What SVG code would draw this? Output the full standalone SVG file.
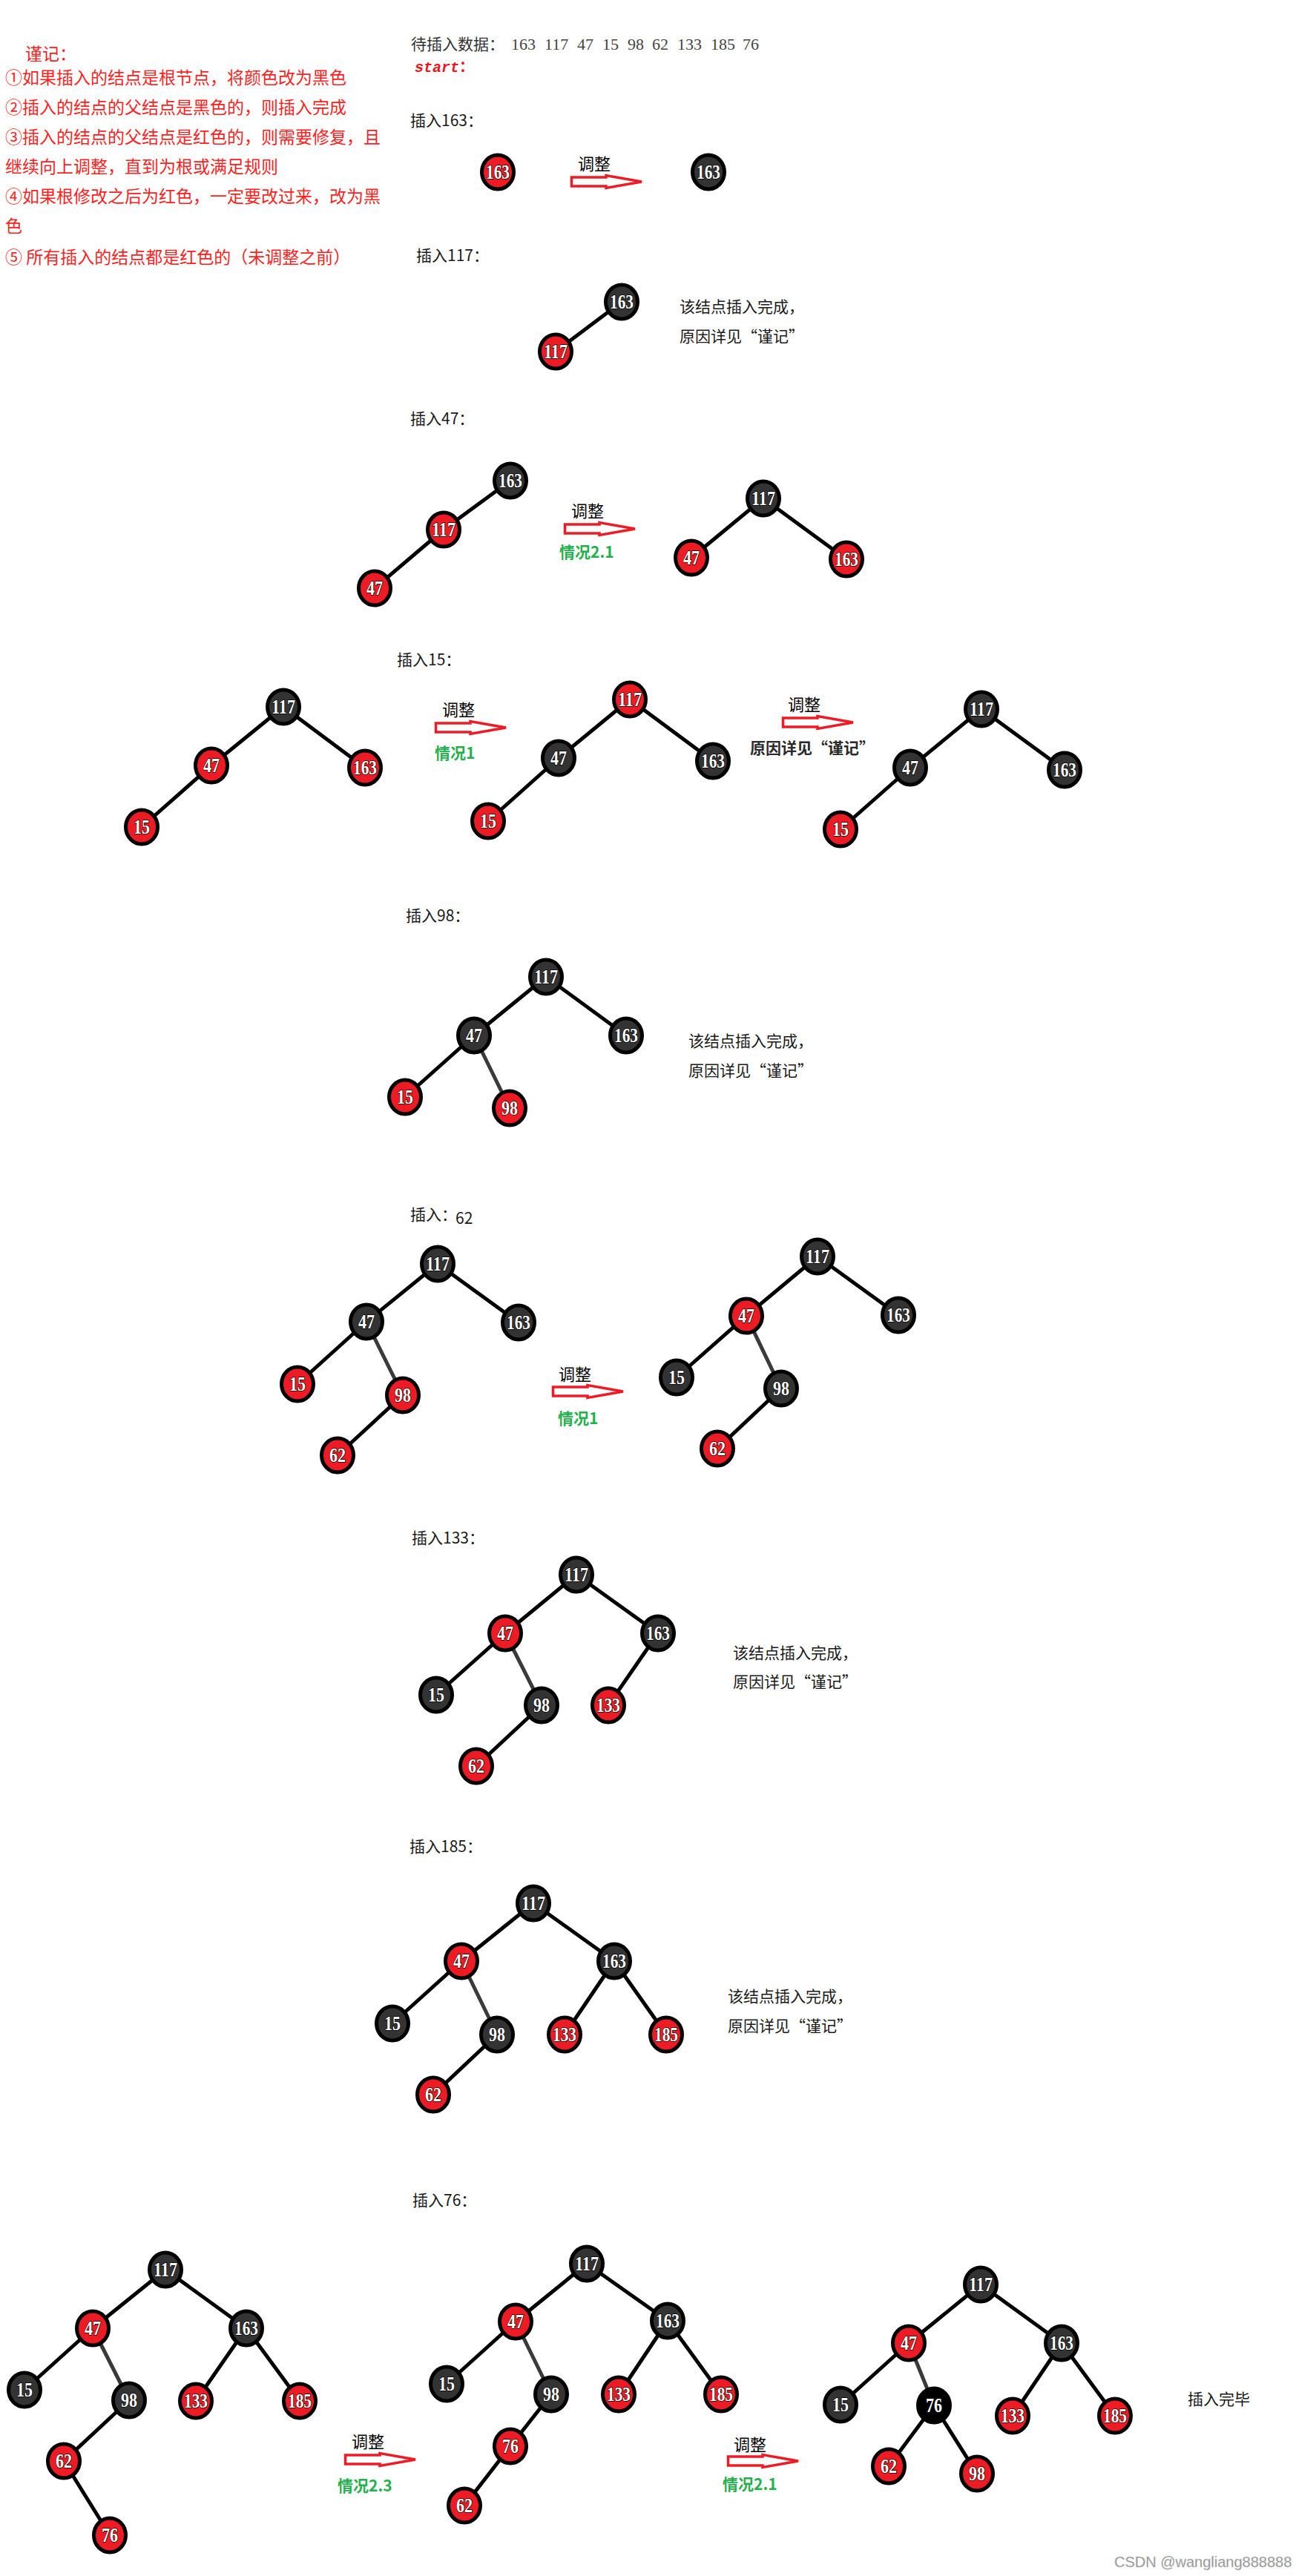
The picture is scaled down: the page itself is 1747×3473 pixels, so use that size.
<svg xmlns="http://www.w3.org/2000/svg" xmlns:xlink="http://www.w3.org/1999/xlink" width="1747" height="3473" viewBox="0 0 1747 3473">
<style>
.bg{fill:#fff}
.note{font-family:"Noto Sans CJK SC","Noto Sans",sans-serif;font-size:23px;fill:#ff1f1f}
.lbl{font-family:"Noto Sans CJK SC","Noto Sans",sans-serif;font-size:21px;fill:#1a1a1a}
.gray{font-family:"Noto Sans CJK SC","Noto Sans",sans-serif;font-size:21px;fill:#333}
.num{font-family:"Liberation Serif",serif;font-size:22px;fill:#444}
.start{font-family:"Liberation Mono",monospace;font-style:italic;font-weight:bold;font-size:20px;fill:#e8161e}
.adj{font-family:"Noto Sans CJK SC","Noto Sans",sans-serif;font-size:22px;fill:#000}
.case{font-family:"Noto Sans CJK SC","Noto Sans",sans-serif;font-size:21px;font-weight:bold;fill:#22b14c}
.bold{font-family:"Noto Sans CJK SC","Noto Sans",sans-serif;font-size:21px;font-weight:bold;fill:#2a2a2a}
.wm{font-family:"Liberation Sans",sans-serif;font-size:20px;fill:#8a8a8a;stroke:#d0d0d0;stroke-width:0.5}
.r{fill:#ed1c24;stroke:#000;stroke-width:5}
.b{fill:#333;stroke:#000;stroke-width:5}
.k{fill:#000;stroke:#000;stroke-width:5}
.n{font-family:"Liberation Serif",serif;font-weight:bold;font-size:27px;fill:#fff;stroke:#000;stroke-width:1.5;paint-order:stroke}
.e{stroke:#000;stroke-width:5;fill:none}
.e2{stroke:#3a3a3a;stroke-width:5;fill:none}
.arr{fill:#fff;stroke:#ed1c24;stroke-width:3.5;stroke-linejoin:miter}
</style>
<defs>
<path id="arr" class="arr" d="M1.5,4 H48 V1.5 L96,10 L48,18.5 V16 H1.5 Z"/>
</defs>
<rect class="bg" x="0" y="0" width="1747" height="3473"/>

<g id="notes">
<text class="note" x="34" y="81">谨记：</text>
<text class="note" x="7" y="113">①如果插入的结点是根节点，将颜色改为黑色</text>
<text class="note" x="7" y="153">②插入的结点的父结点是黑色的，则插入完成</text>
<text class="note" x="7" y="193">③插入的结点的父结点是红色的，则需要修复，且</text>
<text class="note" x="7" y="233">继续向上调整，直到为根或满足规则</text>
<text class="note" x="7" y="273">④如果根修改之后为红色，一定要改过来，改为黑</text>
<text class="note" x="7" y="313">色</text>
<text class="note" x="7" y="355">⑤ 所有插入的结点都是红色的（未调整之前）</text>
</g>

<g id="header">
<text class="gray" x="554" y="67">待插入数据：<tspan class="num" x="689">163</tspan><tspan class="num" x="734">117</tspan><tspan class="num" x="778">47</tspan><tspan class="num" x="812">15</tspan><tspan class="num" x="846">98</tspan><tspan class="num" x="879">62</tspan><tspan class="num" x="913">133</tspan><tspan class="num" x="958">185</tspan><tspan class="num" x="1001">76</tspan></text>
<text class="start" x="559" y="97">start<tspan font-style="normal" font-family="Noto Sans CJK SC, sans-serif">：</tspan></text>
</g>

<g id="titles">
<text class="lbl" x="553" y="170">插入163：</text>
<text class="lbl" x="561" y="352">插入117：</text>
<text class="lbl" x="553" y="572">插入47：</text>
<text class="lbl" x="535" y="897">插入15：</text>
<text class="lbl" x="547" y="1242">插入98：</text>
<text class="lbl" x="553" y="1645">插入：<tspan x="614" y="1650">62</tspan></text>
<text class="lbl" x="555" y="2081">插入133：</text>
<text class="lbl" x="552" y="2497">插入185：</text>
<text class="lbl" x="556" y="2974">插入76：</text>
</g>

<g id="remarks">
<text class="lbl" x="916" y="421">该结点插入完成，</text>
<text class="lbl" x="916" y="461">原因详见“谨记”</text>
<text class="lbl" x="928" y="1411">该结点插入完成，</text>
<text class="lbl" x="928" y="1451">原因详见“谨记”</text>
<text class="lbl" x="988" y="2236">该结点插入完成，</text>
<text class="lbl" x="988" y="2275">原因详见“谨记”</text>
<text class="lbl" x="981" y="2699">该结点插入完成，</text>
<text class="lbl" x="981" y="2739">原因详见“谨记”</text>
<text class="lbl" x="1601" y="3242">插入完毕</text>
</g>

<g id="arrows">
<use xlink:href="#arr" x="769" y="235"/>
<text class="adj" x="779" y="229">调整</text>
<use xlink:href="#arr" x="760" y="703"/>
<text class="adj" x="770" y="697">调整</text>
<text class="case" x="754" y="752">情况2.1</text>
<use xlink:href="#arr" x="586" y="971"/>
<text class="adj" x="596" y="965">调整</text>
<text class="case" x="586" y="1023">情况1</text>
<use xlink:href="#arr" x="1054" y="964"/>
<text class="adj" x="1062" y="958">调整</text>
<text class="bold" x="1011" y="1016">原因详见“谨记”</text>
<use xlink:href="#arr" x="744" y="1866"/>
<text class="adj" x="753" y="1861">调整</text>
<text class="case" x="752" y="1920">情况1</text>
<use xlink:href="#arr" x="464" y="3306"/>
<text class="adj" x="474" y="3300">调整</text>
<text class="case" x="455" y="3359">情况2.3</text>
<use xlink:href="#arr" x="980" y="3308"/>
<text class="adj" x="989" y="3304">调整</text>
<text class="case" x="974" y="3357">情况2.1</text>
</g>

<g id="connectors">
<line class="e" x1="838" y1="407" x2="749" y2="474"/>
<line class="e" x1="688" y1="648" x2="598" y2="714"/>
<line class="e" x1="598" y1="714" x2="505" y2="793"/>
<line class="e" x1="1029" y1="672" x2="932" y2="752"/>
<line class="e" x1="1029" y1="672" x2="1141" y2="754"/>
<line class="e" x1="382" y1="953" x2="285" y2="1032"/>
<line class="e" x1="382" y1="953" x2="492" y2="1035"/>
<line class="e" x1="285" y1="1032" x2="191" y2="1115"/>
<line class="e" x1="849" y1="943" x2="753" y2="1022"/>
<line class="e" x1="849" y1="943" x2="961" y2="1026"/>
<line class="e" x1="753" y1="1022" x2="658" y2="1107"/>
<line class="e" x1="1323" y1="956" x2="1227" y2="1035"/>
<line class="e" x1="1323" y1="956" x2="1435" y2="1038"/>
<line class="e" x1="1227" y1="1035" x2="1133" y2="1118"/>
<line class="e" x1="736" y1="1317" x2="639" y2="1396"/>
<line class="e" x1="736" y1="1317" x2="844" y2="1396"/>
<line class="e" x1="639" y1="1396" x2="546" y2="1479"/>
<line class="e2" x1="639" y1="1396" x2="687" y2="1494"/>
<line class="e" x1="590" y1="1704" x2="494" y2="1782"/>
<line class="e" x1="590" y1="1704" x2="699" y2="1783"/>
<line class="e" x1="494" y1="1782" x2="401" y2="1866"/>
<line class="e2" x1="494" y1="1782" x2="543" y2="1881"/>
<line class="e" x1="543" y1="1881" x2="455" y2="1962"/>
<line class="e" x1="1102" y1="1694" x2="1006" y2="1774"/>
<line class="e" x1="1102" y1="1694" x2="1211" y2="1773"/>
<line class="e" x1="1006" y1="1774" x2="912" y2="1857"/>
<line class="e2" x1="1006" y1="1774" x2="1053" y2="1872"/>
<line class="e" x1="1053" y1="1872" x2="967" y2="1953"/>
<line class="e" x1="777" y1="2123" x2="681" y2="2202"/>
<line class="e" x1="777" y1="2123" x2="887" y2="2202"/>
<line class="e" x1="681" y1="2202" x2="588" y2="2285"/>
<line class="e2" x1="681" y1="2202" x2="730" y2="2299"/>
<line class="e" x1="730" y1="2299" x2="642" y2="2381"/>
<line class="e" x1="887" y1="2202" x2="820" y2="2299"/>
<line class="e" x1="719" y1="2566" x2="622" y2="2644"/>
<line class="e" x1="719" y1="2566" x2="828" y2="2644"/>
<line class="e" x1="622" y1="2644" x2="529" y2="2728"/>
<line class="e2" x1="622" y1="2644" x2="670" y2="2743"/>
<line class="e" x1="670" y1="2743" x2="584" y2="2824"/>
<line class="e" x1="828" y1="2644" x2="761" y2="2743"/>
<line class="e" x1="828" y1="2644" x2="898" y2="2743"/>
<line class="e" x1="223" y1="3060" x2="125" y2="3139"/>
<line class="e" x1="223" y1="3060" x2="332" y2="3139"/>
<line class="e" x1="125" y1="3139" x2="33" y2="3222"/>
<line class="e2" x1="125" y1="3139" x2="174" y2="3236"/>
<line class="e" x1="174" y1="3236" x2="86" y2="3318"/>
<line class="e" x1="86" y1="3318" x2="148" y2="3418"/>
<line class="e" x1="332" y1="3139" x2="264" y2="3237"/>
<line class="e" x1="332" y1="3139" x2="404" y2="3237"/>
<line class="e" x1="791" y1="3052" x2="695" y2="3130"/>
<line class="e" x1="791" y1="3052" x2="900" y2="3129"/>
<line class="e" x1="695" y1="3130" x2="602" y2="3214"/>
<line class="e2" x1="695" y1="3130" x2="743" y2="3228"/>
<line class="e" x1="743" y1="3228" x2="688" y2="3298"/>
<line class="e" x1="688" y1="3298" x2="626" y2="3378"/>
<line class="e" x1="900" y1="3129" x2="834" y2="3228"/>
<line class="e" x1="900" y1="3129" x2="972" y2="3228"/>
<line class="e" x1="1322" y1="3080" x2="1225" y2="3159"/>
<line class="e" x1="1322" y1="3080" x2="1431" y2="3159"/>
<line class="e" x1="1225" y1="3159" x2="1133" y2="3242"/>
<line class="e2" x1="1225" y1="3159" x2="1259" y2="3243"/>
<line class="e" x1="1259" y1="3243" x2="1198" y2="3325"/>
<line class="e" x1="1259" y1="3243" x2="1317" y2="3335"/>
<line class="e" x1="1431" y1="3159" x2="1365" y2="3257"/>
<line class="e" x1="1431" y1="3159" x2="1503" y2="3257"/>
</g>

<g id="s1-163a"><ellipse class="r" cx="671" cy="232" rx="21.5" ry="23"/><text class="n" x="655" y="241" textLength="32" lengthAdjust="spacingAndGlyphs">163</text></g>
<g id="s1-163b"><ellipse class="b" cx="955" cy="232" rx="21.5" ry="23"/><text class="n" x="939" y="241" textLength="32" lengthAdjust="spacingAndGlyphs">163</text></g>

<g id="s2-163"><ellipse class="b" cx="838" cy="407" rx="21.5" ry="23"/><text class="n" x="822" y="416" textLength="32" lengthAdjust="spacingAndGlyphs">163</text></g>
<g id="s2-117"><ellipse class="r" cx="749" cy="474" rx="21.5" ry="23"/><text class="n" x="733" y="483" textLength="32" lengthAdjust="spacingAndGlyphs">117</text></g>

<g id="s3a-163"><ellipse class="b" cx="688" cy="648" rx="21.5" ry="23"/><text class="n" x="672" y="657" textLength="32" lengthAdjust="spacingAndGlyphs">163</text></g>
<g id="s3a-117"><ellipse class="r" cx="598" cy="714" rx="21.5" ry="23"/><text class="n" x="582" y="723" textLength="32" lengthAdjust="spacingAndGlyphs">117</text></g>
<g id="s3a-47"><ellipse class="r" cx="505" cy="793" rx="21.5" ry="23"/><text class="n" x="494" y="802" textLength="22" lengthAdjust="spacingAndGlyphs">47</text></g>
<g id="s3b-117"><ellipse class="b" cx="1029" cy="672" rx="21.5" ry="23"/><text class="n" x="1013" y="681" textLength="32" lengthAdjust="spacingAndGlyphs">117</text></g>
<g id="s3b-47"><ellipse class="r" cx="932" cy="752" rx="21.5" ry="23"/><text class="n" x="921" y="761" textLength="22" lengthAdjust="spacingAndGlyphs">47</text></g>
<g id="s3b-163"><ellipse class="r" cx="1141" cy="754" rx="21.5" ry="23"/><text class="n" x="1125" y="763" textLength="32" lengthAdjust="spacingAndGlyphs">163</text></g>

<g id="s4a-117"><ellipse class="b" cx="382" cy="953" rx="21.5" ry="23"/><text class="n" x="366" y="962" textLength="32" lengthAdjust="spacingAndGlyphs">117</text></g>
<g id="s4a-47"><ellipse class="r" cx="285" cy="1032" rx="21.5" ry="23"/><text class="n" x="274" y="1041" textLength="22" lengthAdjust="spacingAndGlyphs">47</text></g>
<g id="s4a-163"><ellipse class="r" cx="492" cy="1035" rx="21.5" ry="23"/><text class="n" x="476" y="1044" textLength="32" lengthAdjust="spacingAndGlyphs">163</text></g>
<g id="s4a-15"><ellipse class="r" cx="191" cy="1115" rx="21.5" ry="23"/><text class="n" x="180" y="1124" textLength="22" lengthAdjust="spacingAndGlyphs">15</text></g>
<g id="s4b-117"><ellipse class="r" cx="849" cy="943" rx="21.5" ry="23"/><text class="n" x="833" y="952" textLength="32" lengthAdjust="spacingAndGlyphs">117</text></g>
<g id="s4b-47"><ellipse class="b" cx="753" cy="1022" rx="21.5" ry="23"/><text class="n" x="742" y="1031" textLength="22" lengthAdjust="spacingAndGlyphs">47</text></g>
<g id="s4b-163"><ellipse class="b" cx="961" cy="1026" rx="21.5" ry="23"/><text class="n" x="945" y="1035" textLength="32" lengthAdjust="spacingAndGlyphs">163</text></g>
<g id="s4b-15"><ellipse class="r" cx="658" cy="1107" rx="21.5" ry="23"/><text class="n" x="647" y="1116" textLength="22" lengthAdjust="spacingAndGlyphs">15</text></g>
<g id="s4c-117"><ellipse class="b" cx="1323" cy="956" rx="21.5" ry="23"/><text class="n" x="1307" y="965" textLength="32" lengthAdjust="spacingAndGlyphs">117</text></g>
<g id="s4c-47"><ellipse class="b" cx="1227" cy="1035" rx="21.5" ry="23"/><text class="n" x="1216" y="1044" textLength="22" lengthAdjust="spacingAndGlyphs">47</text></g>
<g id="s4c-163"><ellipse class="b" cx="1435" cy="1038" rx="21.5" ry="23"/><text class="n" x="1419" y="1047" textLength="32" lengthAdjust="spacingAndGlyphs">163</text></g>
<g id="s4c-15"><ellipse class="r" cx="1133" cy="1118" rx="21.5" ry="23"/><text class="n" x="1122" y="1127" textLength="22" lengthAdjust="spacingAndGlyphs">15</text></g>

<g id="s5-117"><ellipse class="b" cx="736" cy="1317" rx="21.5" ry="23"/><text class="n" x="720" y="1326" textLength="32" lengthAdjust="spacingAndGlyphs">117</text></g>
<g id="s5-47"><ellipse class="b" cx="639" cy="1396" rx="21.5" ry="23"/><text class="n" x="628" y="1405" textLength="22" lengthAdjust="spacingAndGlyphs">47</text></g>
<g id="s5-163"><ellipse class="b" cx="844" cy="1396" rx="21.5" ry="23"/><text class="n" x="828" y="1405" textLength="32" lengthAdjust="spacingAndGlyphs">163</text></g>
<g id="s5-15"><ellipse class="r" cx="546" cy="1479" rx="21.5" ry="23"/><text class="n" x="535" y="1488" textLength="22" lengthAdjust="spacingAndGlyphs">15</text></g>
<g id="s5-98"><ellipse class="r" cx="687" cy="1494" rx="21.5" ry="23"/><text class="n" x="676" y="1503" textLength="22" lengthAdjust="spacingAndGlyphs">98</text></g>

<g id="s6a-117"><ellipse class="b" cx="590" cy="1704" rx="21.5" ry="23"/><text class="n" x="574" y="1713" textLength="32" lengthAdjust="spacingAndGlyphs">117</text></g>
<g id="s6a-47"><ellipse class="b" cx="494" cy="1782" rx="21.5" ry="23"/><text class="n" x="483" y="1791" textLength="22" lengthAdjust="spacingAndGlyphs">47</text></g>
<g id="s6a-163"><ellipse class="b" cx="699" cy="1783" rx="21.5" ry="23"/><text class="n" x="683" y="1792" textLength="32" lengthAdjust="spacingAndGlyphs">163</text></g>
<g id="s6a-15"><ellipse class="r" cx="401" cy="1866" rx="21.5" ry="23"/><text class="n" x="390" y="1875" textLength="22" lengthAdjust="spacingAndGlyphs">15</text></g>
<g id="s6a-98"><ellipse class="r" cx="543" cy="1881" rx="21.5" ry="23"/><text class="n" x="532" y="1890" textLength="22" lengthAdjust="spacingAndGlyphs">98</text></g>
<g id="s6a-62"><ellipse class="r" cx="455" cy="1962" rx="21.5" ry="23"/><text class="n" x="444" y="1971" textLength="22" lengthAdjust="spacingAndGlyphs">62</text></g>
<g id="s6b-117"><ellipse class="b" cx="1102" cy="1694" rx="21.5" ry="23"/><text class="n" x="1086" y="1703" textLength="32" lengthAdjust="spacingAndGlyphs">117</text></g>
<g id="s6b-47"><ellipse class="r" cx="1006" cy="1774" rx="21.5" ry="23"/><text class="n" x="995" y="1783" textLength="22" lengthAdjust="spacingAndGlyphs">47</text></g>
<g id="s6b-163"><ellipse class="b" cx="1211" cy="1773" rx="21.5" ry="23"/><text class="n" x="1195" y="1782" textLength="32" lengthAdjust="spacingAndGlyphs">163</text></g>
<g id="s6b-15"><ellipse class="b" cx="912" cy="1857" rx="21.5" ry="23"/><text class="n" x="901" y="1866" textLength="22" lengthAdjust="spacingAndGlyphs">15</text></g>
<g id="s6b-98"><ellipse class="b" cx="1053" cy="1872" rx="21.5" ry="23"/><text class="n" x="1042" y="1881" textLength="22" lengthAdjust="spacingAndGlyphs">98</text></g>
<g id="s6b-62"><ellipse class="r" cx="967" cy="1953" rx="21.5" ry="23"/><text class="n" x="956" y="1962" textLength="22" lengthAdjust="spacingAndGlyphs">62</text></g>

<g id="s7-117"><ellipse class="b" cx="777" cy="2123" rx="21.5" ry="23"/><text class="n" x="761" y="2132" textLength="32" lengthAdjust="spacingAndGlyphs">117</text></g>
<g id="s7-47"><ellipse class="r" cx="681" cy="2202" rx="21.5" ry="23"/><text class="n" x="670" y="2211" textLength="22" lengthAdjust="spacingAndGlyphs">47</text></g>
<g id="s7-163"><ellipse class="b" cx="887" cy="2202" rx="21.5" ry="23"/><text class="n" x="871" y="2211" textLength="32" lengthAdjust="spacingAndGlyphs">163</text></g>
<g id="s7-15"><ellipse class="b" cx="588" cy="2285" rx="21.5" ry="23"/><text class="n" x="577" y="2294" textLength="22" lengthAdjust="spacingAndGlyphs">15</text></g>
<g id="s7-98"><ellipse class="b" cx="730" cy="2299" rx="21.5" ry="23"/><text class="n" x="719" y="2308" textLength="22" lengthAdjust="spacingAndGlyphs">98</text></g>
<g id="s7-133"><ellipse class="r" cx="820" cy="2299" rx="21.5" ry="23"/><text class="n" x="804" y="2308" textLength="32" lengthAdjust="spacingAndGlyphs">133</text></g>
<g id="s7-62"><ellipse class="r" cx="642" cy="2381" rx="21.5" ry="23"/><text class="n" x="631" y="2390" textLength="22" lengthAdjust="spacingAndGlyphs">62</text></g>

<g id="s8-117"><ellipse class="b" cx="719" cy="2566" rx="21.5" ry="23"/><text class="n" x="703" y="2575" textLength="32" lengthAdjust="spacingAndGlyphs">117</text></g>
<g id="s8-47"><ellipse class="r" cx="622" cy="2644" rx="21.5" ry="23"/><text class="n" x="611" y="2653" textLength="22" lengthAdjust="spacingAndGlyphs">47</text></g>
<g id="s8-163"><ellipse class="b" cx="828" cy="2644" rx="21.5" ry="23"/><text class="n" x="812" y="2653" textLength="32" lengthAdjust="spacingAndGlyphs">163</text></g>
<g id="s8-15"><ellipse class="b" cx="529" cy="2728" rx="21.5" ry="23"/><text class="n" x="518" y="2737" textLength="22" lengthAdjust="spacingAndGlyphs">15</text></g>
<g id="s8-98"><ellipse class="b" cx="670" cy="2743" rx="21.5" ry="23"/><text class="n" x="659" y="2752" textLength="22" lengthAdjust="spacingAndGlyphs">98</text></g>
<g id="s8-133"><ellipse class="r" cx="761" cy="2743" rx="21.5" ry="23"/><text class="n" x="745" y="2752" textLength="32" lengthAdjust="spacingAndGlyphs">133</text></g>
<g id="s8-185"><ellipse class="r" cx="898" cy="2743" rx="21.5" ry="23"/><text class="n" x="882" y="2752" textLength="32" lengthAdjust="spacingAndGlyphs">185</text></g>
<g id="s8-62"><ellipse class="r" cx="584" cy="2824" rx="21.5" ry="23"/><text class="n" x="573" y="2833" textLength="22" lengthAdjust="spacingAndGlyphs">62</text></g>

<g id="s9a-117"><ellipse class="b" cx="223" cy="3060" rx="21.5" ry="23"/><text class="n" x="207" y="3069" textLength="32" lengthAdjust="spacingAndGlyphs">117</text></g>
<g id="s9a-47"><ellipse class="r" cx="125" cy="3139" rx="21.5" ry="23"/><text class="n" x="114" y="3148" textLength="22" lengthAdjust="spacingAndGlyphs">47</text></g>
<g id="s9a-163"><ellipse class="b" cx="332" cy="3139" rx="21.5" ry="23"/><text class="n" x="316" y="3148" textLength="32" lengthAdjust="spacingAndGlyphs">163</text></g>
<g id="s9a-15"><ellipse class="b" cx="33" cy="3222" rx="21.5" ry="23"/><text class="n" x="22" y="3231" textLength="22" lengthAdjust="spacingAndGlyphs">15</text></g>
<g id="s9a-98"><ellipse class="b" cx="174" cy="3236" rx="21.5" ry="23"/><text class="n" x="163" y="3245" textLength="22" lengthAdjust="spacingAndGlyphs">98</text></g>
<g id="s9a-133"><ellipse class="r" cx="264" cy="3237" rx="21.5" ry="23"/><text class="n" x="248" y="3246" textLength="32" lengthAdjust="spacingAndGlyphs">133</text></g>
<g id="s9a-185"><ellipse class="r" cx="404" cy="3237" rx="21.5" ry="23"/><text class="n" x="388" y="3246" textLength="32" lengthAdjust="spacingAndGlyphs">185</text></g>
<g id="s9a-62"><ellipse class="r" cx="86" cy="3318" rx="21.5" ry="23"/><text class="n" x="75" y="3327" textLength="22" lengthAdjust="spacingAndGlyphs">62</text></g>
<g id="s9a-76"><ellipse class="r" cx="148" cy="3418" rx="21.5" ry="23"/><text class="n" x="137" y="3427" textLength="22" lengthAdjust="spacingAndGlyphs">76</text></g>

<g id="s9b-117"><ellipse class="b" cx="791" cy="3052" rx="21.5" ry="23"/><text class="n" x="775" y="3061" textLength="32" lengthAdjust="spacingAndGlyphs">117</text></g>
<g id="s9b-47"><ellipse class="r" cx="695" cy="3130" rx="21.5" ry="23"/><text class="n" x="684" y="3139" textLength="22" lengthAdjust="spacingAndGlyphs">47</text></g>
<g id="s9b-163"><ellipse class="b" cx="900" cy="3129" rx="21.5" ry="23"/><text class="n" x="884" y="3138" textLength="32" lengthAdjust="spacingAndGlyphs">163</text></g>
<g id="s9b-15"><ellipse class="b" cx="602" cy="3214" rx="21.5" ry="23"/><text class="n" x="591" y="3223" textLength="22" lengthAdjust="spacingAndGlyphs">15</text></g>
<g id="s9b-98"><ellipse class="b" cx="743" cy="3228" rx="21.5" ry="23"/><text class="n" x="732" y="3237" textLength="22" lengthAdjust="spacingAndGlyphs">98</text></g>
<g id="s9b-133"><ellipse class="r" cx="834" cy="3228" rx="21.5" ry="23"/><text class="n" x="818" y="3237" textLength="32" lengthAdjust="spacingAndGlyphs">133</text></g>
<g id="s9b-185"><ellipse class="r" cx="972" cy="3228" rx="21.5" ry="23"/><text class="n" x="956" y="3237" textLength="32" lengthAdjust="spacingAndGlyphs">185</text></g>
<g id="s9b-76"><ellipse class="r" cx="688" cy="3298" rx="21.5" ry="23"/><text class="n" x="677" y="3307" textLength="22" lengthAdjust="spacingAndGlyphs">76</text></g>
<g id="s9b-62"><ellipse class="r" cx="626" cy="3378" rx="21.5" ry="23"/><text class="n" x="615" y="3387" textLength="22" lengthAdjust="spacingAndGlyphs">62</text></g>

<g id="s9c-117"><ellipse class="b" cx="1322" cy="3080" rx="21.5" ry="23"/><text class="n" x="1306" y="3089" textLength="32" lengthAdjust="spacingAndGlyphs">117</text></g>
<g id="s9c-47"><ellipse class="r" cx="1225" cy="3159" rx="21.5" ry="23"/><text class="n" x="1214" y="3168" textLength="22" lengthAdjust="spacingAndGlyphs">47</text></g>
<g id="s9c-163"><ellipse class="b" cx="1431" cy="3159" rx="21.5" ry="23"/><text class="n" x="1415" y="3168" textLength="32" lengthAdjust="spacingAndGlyphs">163</text></g>
<g id="s9c-15"><ellipse class="b" cx="1133" cy="3242" rx="21.5" ry="23"/><text class="n" x="1122" y="3251" textLength="22" lengthAdjust="spacingAndGlyphs">15</text></g>
<g id="s9c-76"><ellipse class="k" cx="1259" cy="3243" rx="21.5" ry="23"/><text class="n" x="1248" y="3252" textLength="22" lengthAdjust="spacingAndGlyphs">76</text></g>
<g id="s9c-133"><ellipse class="r" cx="1365" cy="3257" rx="21.5" ry="23"/><text class="n" x="1349" y="3266" textLength="32" lengthAdjust="spacingAndGlyphs">133</text></g>
<g id="s9c-185"><ellipse class="r" cx="1503" cy="3257" rx="21.5" ry="23"/><text class="n" x="1487" y="3266" textLength="32" lengthAdjust="spacingAndGlyphs">185</text></g>
<g id="s9c-62"><ellipse class="r" cx="1198" cy="3325" rx="21.5" ry="23"/><text class="n" x="1187" y="3334" textLength="22" lengthAdjust="spacingAndGlyphs">62</text></g>
<g id="s9c-98"><ellipse class="r" cx="1317" cy="3335" rx="21.5" ry="23"/><text class="n" x="1306" y="3344" textLength="22" lengthAdjust="spacingAndGlyphs">98</text></g>

<text class="wm" x="1502" y="3461">CSDN @wangliang888888</text>
</svg>
